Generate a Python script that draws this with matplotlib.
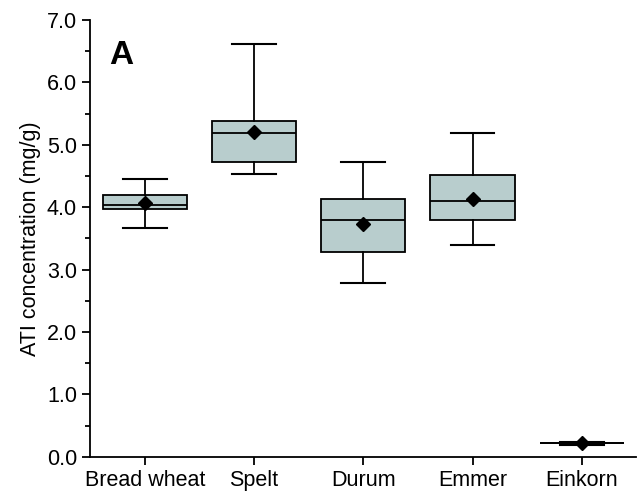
import matplotlib
matplotlib.use("Agg")
import matplotlib.pyplot as plt
from matplotlib.ticker import MultipleLocator

plt.rcParams['font.family'] = ['Liberation Sans', 'DejaVu Sans']

categories = ["Bread wheat", "Spelt", "Durum", "Emmer", "Einkorn"]
whisker_low = [3.67, 4.53, 2.78, 3.40, 0.185]
q1 = [3.97, 4.73, 3.29, 3.80, 0.213]
median = [4.03, 5.19, 3.80, 4.10, 0.215]
q3 = [4.20, 5.38, 4.13, 4.51, 0.217]
whisker_high = [4.46, 6.61, 4.73, 5.19, 0.24]
mean = [4.07, 5.20, 3.73, 4.14, 0.215]

stats = []
for i, name in enumerate(categories):
    stats.append(dict(label=name, whislo=whisker_low[i], q1=q1[i], med=median[i],
                      q3=q3[i], whishi=whisker_high[i], mean=mean[i], fliers=[]))

fig = plt.figure(figsize=(6.39, 5.03), dpi=100)
ax = fig.add_axes([0.141, 0.092, 0.855, 0.868])

ax.bxp(stats, positions=range(1, 6), widths=0.77, patch_artist=True,
       showmeans=True, showfliers=False,
       boxprops=dict(facecolor='#b8cdcd', edgecolor='black', linewidth=1.3),
       medianprops=dict(color='black', linewidth=1.3),
       whiskerprops=dict(color='black', linewidth=1.3),
       capprops=dict(color='black', linewidth=1.5),
       capwidths=0.4,
       meanprops=dict(marker='D', markerfacecolor='black', markeredgecolor='black', markersize=7))

ax.set_xlim(0.5, 5.5)
ax.set_ylim(0, 7.0)
ax.yaxis.set_major_locator(MultipleLocator(1.0))
ax.yaxis.set_minor_locator(MultipleLocator(0.5))
ax.set_yticklabels([f"{v:.1f}" for v in ax.get_yticks()])
ax.spines['top'].set_visible(False)
ax.spines['right'].set_visible(False)
ax.spines['left'].set_linewidth(1.3)
ax.spines['bottom'].set_linewidth(1.3)
ax.tick_params(axis='both', which='major', direction='out', length=6, width=1.3, labelsize=15.5)
ax.tick_params(axis='y', which='minor', direction='out', length=3.5, width=1.3)
ax.set_ylabel("ATI concentration (mg/g)", fontsize=15.5, labelpad=4)
ax.text(0.035, 0.955, "A", transform=ax.transAxes, fontsize=24, fontweight='bold', va='top')

fig.savefig("out.png", dpi=100)
